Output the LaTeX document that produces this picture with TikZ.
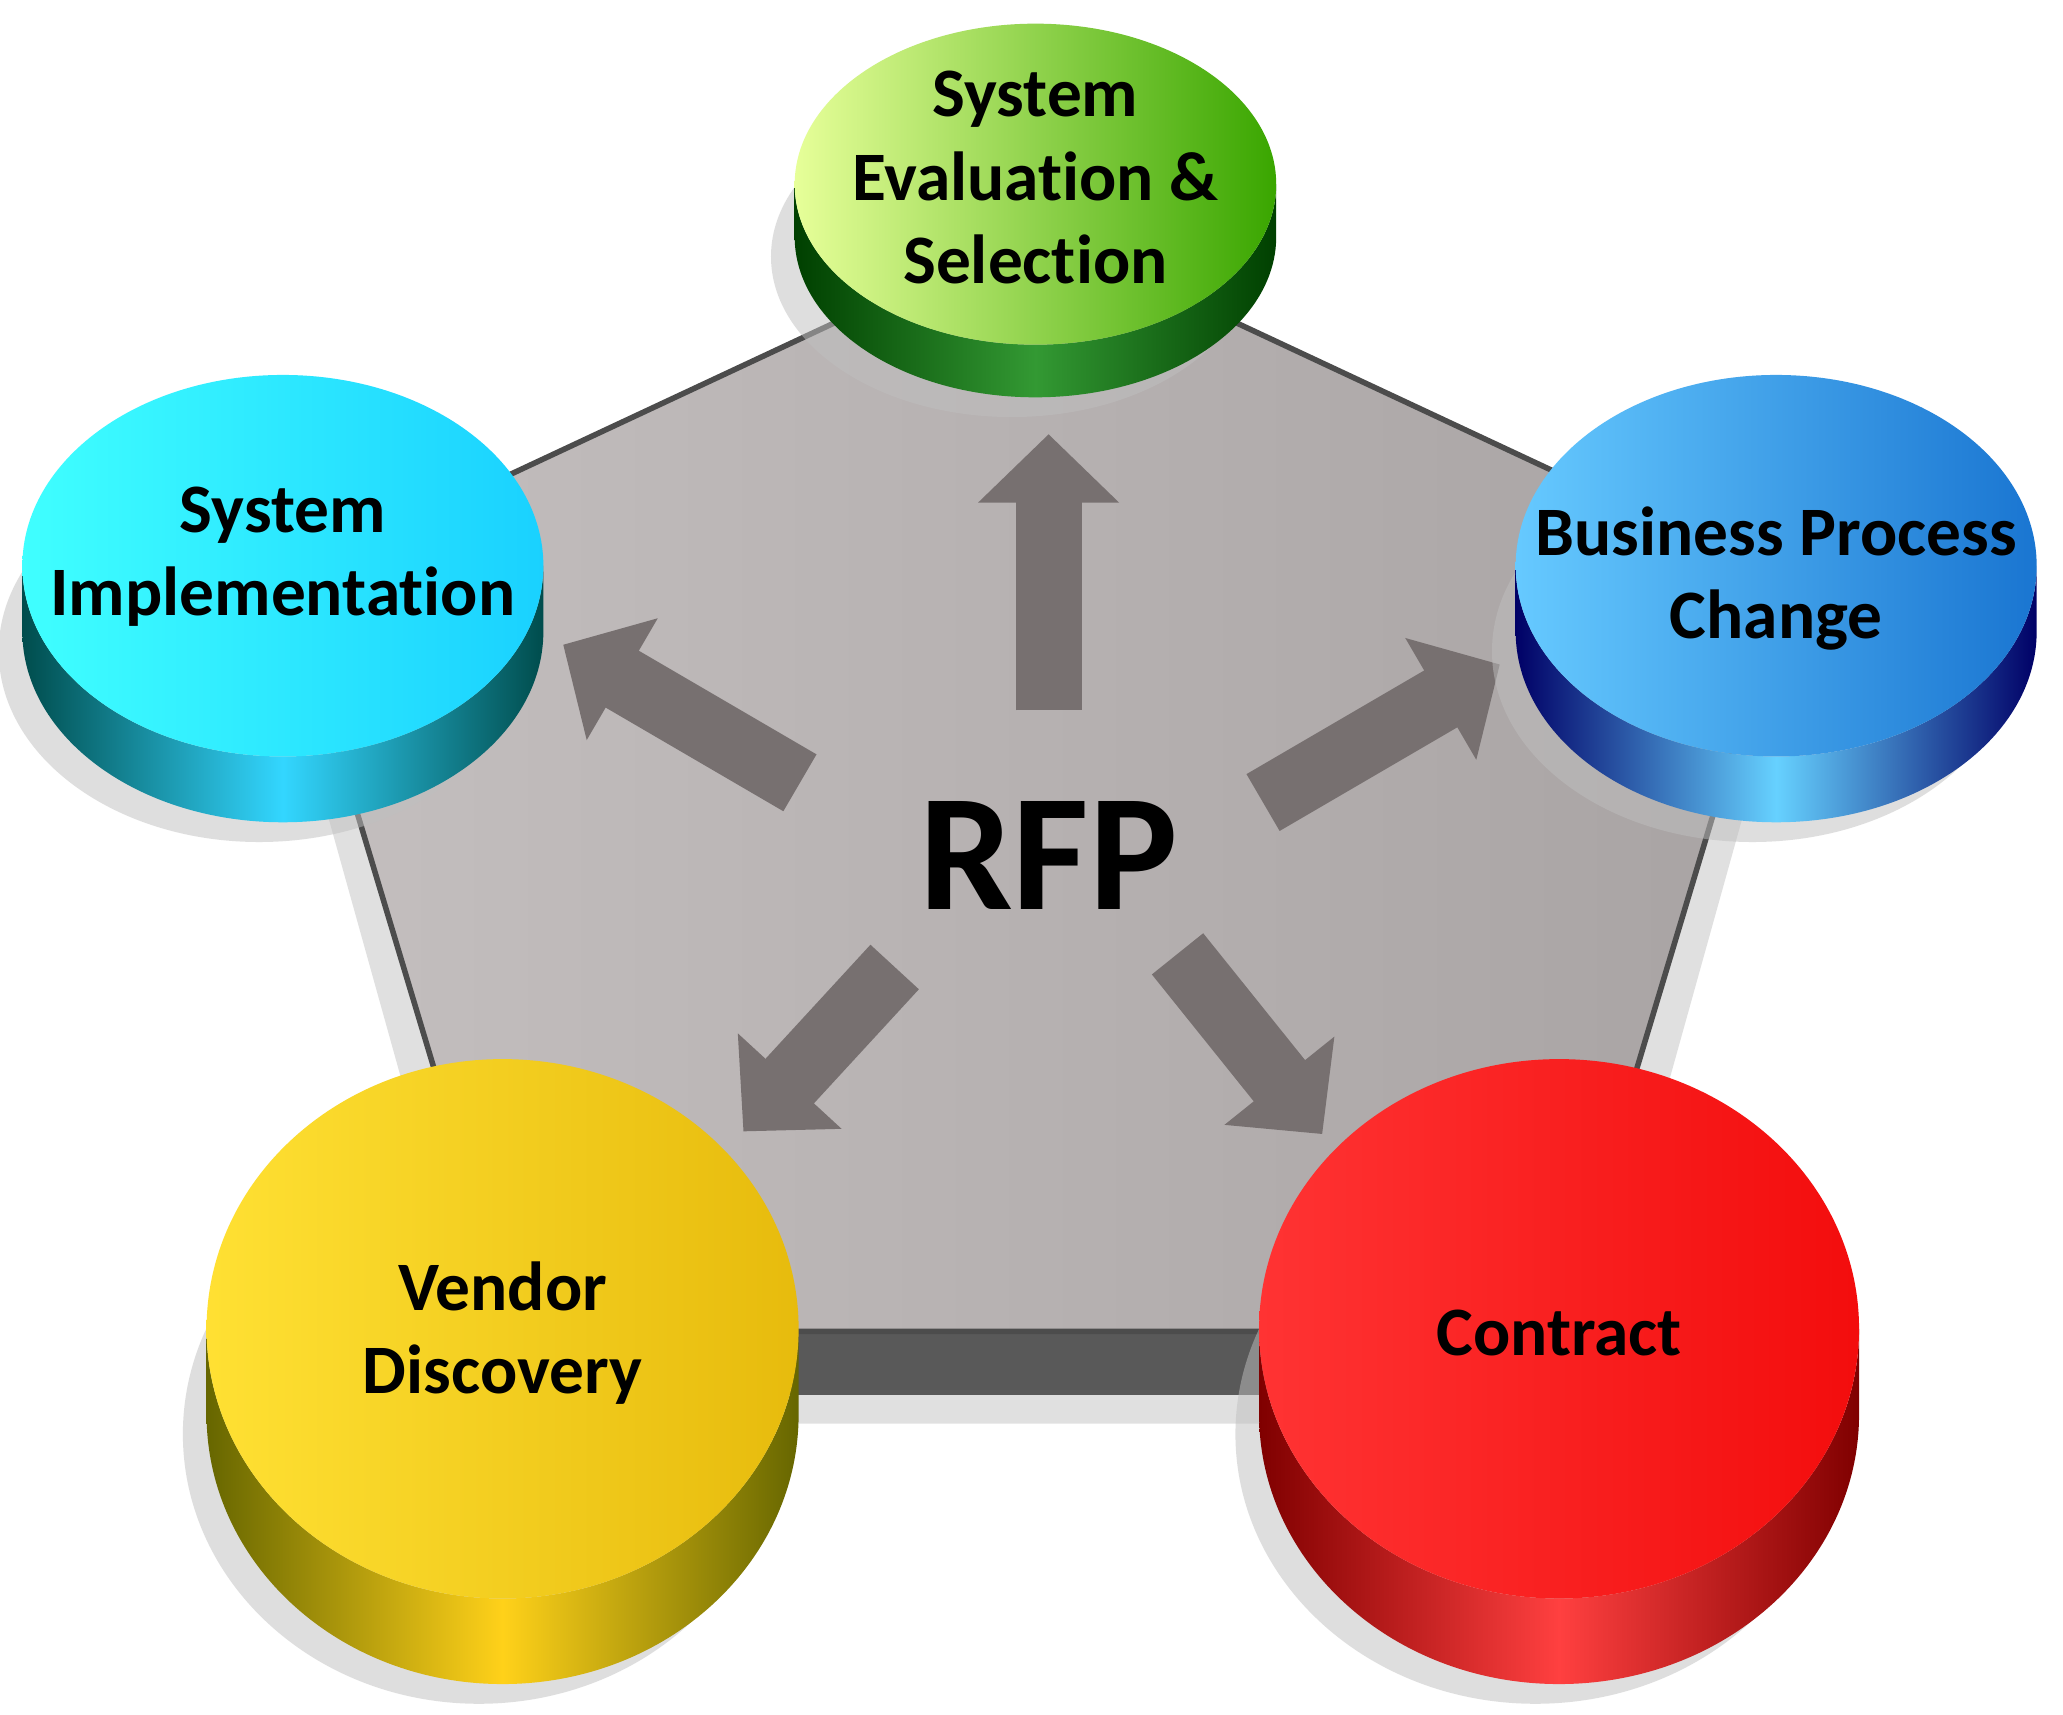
\documentclass[tikz,border=0pt]{standalone}
\usepackage{fontspec}
\setmainfont{Carlito}[Ligatures=NoCommon]
\usetikzlibrary{arrows.meta}
\definecolor{arrowgray}{HTML}{777070}
\definecolor{pentL}{HTML}{C4BFBF}
\definecolor{pentR}{HTML}{A8A3A3}
\tikzset{
  lbl/.style={font=\fontsize{15}{18}\selectfont\bfseries,align=center,text=black},
  bigarrow/.style={draw=arrowgray,line width=0.5cm,-{Triangle[width=1.04cm,length=0.52cm]}},
}
\newcommand{\mycyl}[9]{%
  \fill[black!25,opacity=0.5] (#1-18,#2-#5-15) ellipse[x radius=#3,y radius=#4];
  \shade[left color=#8,right color=#8,middle color=#9]
    (#1-#3,#2) -- (#1-#3,#2-#5) arc[start angle=180,end angle=360,x radius=#3,y radius=#4]
    -- (#1+#3,#2) arc[start angle=0,end angle=-180,x radius=#3,y radius=#4] -- cycle;
  \shade[left color=#6,right color=#7] (#1,#2) ellipse[x radius=#3,y radius=#4];
}
\begin{document}
\begin{tikzpicture}[x=0.01cm,y=0.01cm]
\useasboundingbox (0,0) rectangle (1568,1303);
\fill[white] (0,0) rectangle (1568,1303);
% pentagon
\coordinate (pt) at (787,1129);
\coordinate (pl) at (218,863);
\coordinate (pr) at (1356,863);
\coordinate (pbl) at (390,291);
\coordinate (pbr) at (1184,291);
\fill[black!20,opacity=0.6] ([shift={(-12,-25)}]pl) -- ([shift={(-12,-70)}]pbl) -- ([shift={(12,-70)}]pbr) -- ([shift={(12,-25)}]pr) -- cycle;
\fill[black!65] (pbl) -- ([shift={(0,-48)}]pbl) -- ([shift={(0,-48)}]pbr) -- (pbr) -- cycle;
\shade[left color=pentL,right color=pentR,draw=black!70,line width=1.2] (pt) -- (pr) -- (pbr) -- (pbl) -- (pl) -- cycle;
% arrows
\coordinate (a1s) at (797,763); \coordinate (a1e) at (797,973);
\coordinate (a2s) at (608,708); \coordinate (a2e) at (428,813);
\coordinate (a3s) at (960,693); \coordinate (a3e) at (1140,798);
\coordinate (a4s) at (680,568); \coordinate (a4e) at (565,443);
\coordinate (a5s) at (895,578); \coordinate (a5e) at (1005,441);
\draw[bigarrow] (a1s) -- (a1e);
\draw[bigarrow] (a2s) -- (a2e);
\draw[bigarrow] (a3s) -- (a3e);
\draw[bigarrow] (a4s) -- (a4e);
\draw[bigarrow] (a5s) -- (a5e);
\node[font=\fontsize{36}{40}\selectfont\bfseries] (rfp) at (797,653) {RFP};
% cylinders
\mycyl{787}{1163}{183}{122}{40}{green!30!lime!50!yellow!40!white}{green!50!black!70!lime}{green!25!black}{green!50!black!80!white}
\mycyl{215}{873}{198}{145}{50}{cyan!75!white}{cyan!80!blue!90!white}{cyan!30!black}{cyan!80!blue!80!white}
\mycyl{1350}{873}{198}{145}{50}{blue!35!cyan!60!white}{blue!50!cyan!80!black!90}{blue!40!black}{blue!30!cyan!60!white}
\mycyl{382}{293}{225}{205}{65}{yellow!70!orange!80!white}{yellow!60!orange!90!black!95}{yellow!40!black}{yellow!60!orange!90!white}
\mycyl{1185}{293}{228}{205}{65}{red!80!white}{red!95!black!95}{red!50!black}{red!75!white}
\node[lbl] (ses) at (787,1168) {System\\Evaluation \&\\Selection};
\node[lbl] (si) at (215,880) {System\\Implementation};
\node[lbl] (bpc) at (1350,863) {Business Process\\Change};
\node[lbl] (vd) at (382,290) {Vendor\\Discovery};
\node[lbl] (con) at (1185,290) {Contract};
\end{tikzpicture}
\end{document}
